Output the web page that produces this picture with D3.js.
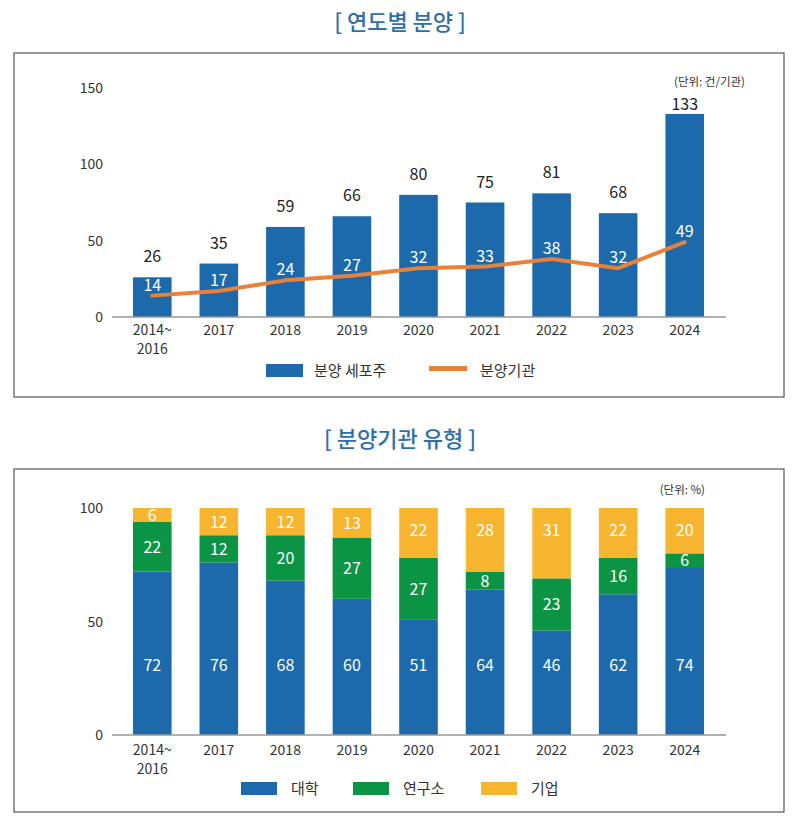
<!DOCTYPE html>
<html>
<head>
<meta charset="utf-8">
<script src="https://cdn.jsdelivr.net/npm/d3@7"></script>
<style>
  body { margin: 0; background: #fff; font-family: "Noto Sans CJK KR", "Noto Sans", sans-serif; }
  svg { display: block; }
</style>
</head>
<body>
<div id="chart"></div>
<script>
// data
const years = ["2014~\n2016", "2017", "2018", "2019", "2020", "2021", "2022", "2023", "2024"];
const cellLines = [26, 35, 59, 66, 80, 75, 81, 68, 133];
const institutions = [14, 17, 24, 27, 32, 33, 38, 32, 49];
const univ = [72, 76, 68, 60, 51, 64, 46, 62, 74];
const institute = [22, 12, 20, 27, 27, 8, 23, 16, 6];
const company = [6, 12, 12, 13, 22, 28, 31, 22, 20];
const ticks1 = [0, 50, 100, 150];
const ticks2 = [0, 50, 100];

const COLORS = { blue: "#1c6aab", orange: "#e8823a", green: "#0b9444", yellow: "#f7b530", title: "#2f6fa8" };

const svg = d3.select("#chart").append("svg")
    .attr("width", 800).attr("height", 820);

// helper: draw x axis labels (multi-line)
function drawXLabels(g, x, y0) {
    years.forEach(function(label, i) {
        const t = g.append("text")
            .attr("x", x(i) + x.bandwidth() / 2)
            .attr("y", y0)
            .attr("text-anchor", "middle")
            .attr("font-size", 14)
            .attr("fill", "#333");
        label.split("\n").forEach(function(part, j) {
            t.append("tspan").attr("x", x(i) + x.bandwidth() / 2).attr("dy", j === 0 ? 0 : 19).text(part);
        });
    });
}

function drawYLabels(g, y, ticks) {
    g.selectAll("text.ytick").data(ticks).join("text")
        .attr("class", "ytick")
        .attr("x", 103).attr("y", d => y(d) + 5)
        .attr("text-anchor", "end")
        .attr("font-size", 14).attr("fill", "#333")
        .text(d => d);
}

/* ---------- chart 1 ---------- */
svg.append("text").attr("x", 400).attr("y", 30).attr("text-anchor", "middle")
    .attr("font-size", 22).attr("font-weight", 500).attr("fill", COLORS.title)
    .text("[ 연도별 분양 ]");

svg.append("rect").attr("x", 14).attr("y", 53).attr("width", 770).attr("height", 344)
    .attr("fill", "none").attr("stroke", "#555").attr("stroke-width", 1.2);

const g1 = svg.append("g");
const x1 = d3.scaleBand().domain(d3.range(years.length)).range([117, 720]).paddingInner(0.42).paddingOuter(0.24);
const y1 = d3.scaleLinear().domain([0, 150]).range([317, 88]);

drawYLabels(g1, y1, ticks1);

g1.selectAll("rect.bar").data(cellLines).join("rect")
    .attr("class", "bar")
    .attr("x", (d, i) => x1(i)).attr("y", d => y1(d))
    .attr("width", x1.bandwidth()).attr("height", d => y1(0) - y1(d))
    .attr("fill", COLORS.blue);

g1.append("line").attr("x1", 112).attr("x2", 726).attr("y1", y1(0)).attr("y2", y1(0))
    .attr("stroke", "#999").attr("stroke-width", 1.5);

g1.selectAll("text.total").data(cellLines).join("text")
    .attr("class", "total")
    .attr("x", (d, i) => x1(i) + x1.bandwidth() / 2)
    .attr("y", d => Math.max(y1(d) - 15, 110))
    .attr("text-anchor", "middle").attr("font-size", 16).attr("fill", "#222")
    .text(d => d);

const line = d3.line()
    .x((d, i) => x1(i) + x1.bandwidth() / 2)
    .y(d => y1(d));

g1.append("path").datum(institutions)
    .attr("d", line).attr("fill", "none")
    .attr("stroke", COLORS.orange).attr("stroke-width", 4)
    .attr("stroke-linecap", "round").attr("stroke-linejoin", "round");

g1.selectAll("text.inst").data(institutions).join("text")
    .attr("class", "inst")
    .attr("x", (d, i) => x1(i) + x1.bandwidth() / 2)
    .attr("y", d => y1(d) - 5)
    .attr("text-anchor", "middle").attr("font-size", 16).attr("fill", "#fff")
    .text(d => d);

svg.append("text").attr("x", 745).attr("y", 86).attr("text-anchor", "end")
    .attr("font-size", 11.5).attr("fill", "#333").text("(단위: 건/기관)");

drawXLabels(g1, x1, 335);

// legend 1
svg.append("rect").attr("x", 266).attr("y", 364).attr("width", 37).attr("height", 13).attr("fill", COLORS.blue);
svg.append("text").attr("x", 314).attr("y", 376).attr("font-size", 15).attr("fill", "#333").text("분양 세포주");
svg.append("line").attr("x1", 429).attr("x2", 467).attr("y1", 368.5).attr("y2", 368.5)
    .attr("stroke", COLORS.orange).attr("stroke-width", 5);
svg.append("text").attr("x", 480).attr("y", 376).attr("font-size", 15).attr("fill", "#333").text("분양기관");

/* ---------- chart 2 ---------- */
svg.append("text").attr("x", 400).attr("y", 447).attr("text-anchor", "middle")
    .attr("font-size", 22).attr("font-weight", 500).attr("fill", COLORS.title)
    .text("[ 분양기관 유형 ]");

svg.append("rect").attr("x", 14).attr("y", 469).attr("width", 770).attr("height", 343)
    .attr("fill", "none").attr("stroke", "#555").attr("stroke-width", 1.2);

const g2 = svg.append("g");
const x2 = x1.copy();
const y2 = d3.scaleLinear().domain([0, 100]).range([735, 508]);

drawYLabels(g2, y2, ticks2);

const stackKeys = ["univ", "institute", "company"];
const stackColors = { univ: COLORS.blue, institute: COLORS.green, company: COLORS.yellow };
const rows = years.map((yr, i) => ({ i: i, univ: univ[i], institute: institute[i], company: company[i] }));
const series = d3.stack().keys(stackKeys)(rows);

// label centre per segment: blue at a fixed height, yellow kept near the top
function labelY(key, d) {
    const mid = (y2(d[0]) + y2(d[1])) / 2;
    if (key === "univ") return y2(31);
    if (key === "company") return Math.min(mid, y2(90.5));
    return mid;
}

series.forEach(function(s) {
    g2.selectAll("rect.s-" + s.key).data(s).join("rect")
        .attr("class", "s-" + s.key)
        .attr("x", d => x2(d.data.i)).attr("y", d => y2(d[1]))
        .attr("width", x2.bandwidth()).attr("height", d => y2(d[0]) - y2(d[1]))
        .attr("fill", stackColors[s.key]);
    g2.selectAll("text.l-" + s.key).data(s).join("text")
        .attr("class", "l-" + s.key)
        .attr("x", d => x2(d.data.i) + x2.bandwidth() / 2)
        .attr("y", d => labelY(s.key, d) + 6)
        .attr("text-anchor", "middle").attr("font-size", 16).attr("fill", "#fff")
        .text(d => d[1] - d[0]);
});

g2.append("line").attr("x1", 112).attr("x2", 726).attr("y1", y2(0)).attr("y2", y2(0))
    .attr("stroke", "#999").attr("stroke-width", 1.5);

svg.append("text").attr("x", 705).attr("y", 494).attr("text-anchor", "end")
    .attr("font-size", 11.5).attr("fill", "#333").text("(단위: %)");

drawXLabels(g2, x2, 755);

// legend 2
const legend2 = [["대학", COLORS.blue, 241], ["연구소", COLORS.green, 353], ["기업", COLORS.yellow, 481]];
legend2.forEach(function(d) {
    svg.append("rect").attr("x", d[2]).attr("y", 782).attr("width", 36).attr("height", 13).attr("fill", d[1]);
    svg.append("text").attr("x", d[2] + 50).attr("y", 794).attr("font-size", 15).attr("fill", "#333").text(d[0]);
});
</script>
</body>
</html>
